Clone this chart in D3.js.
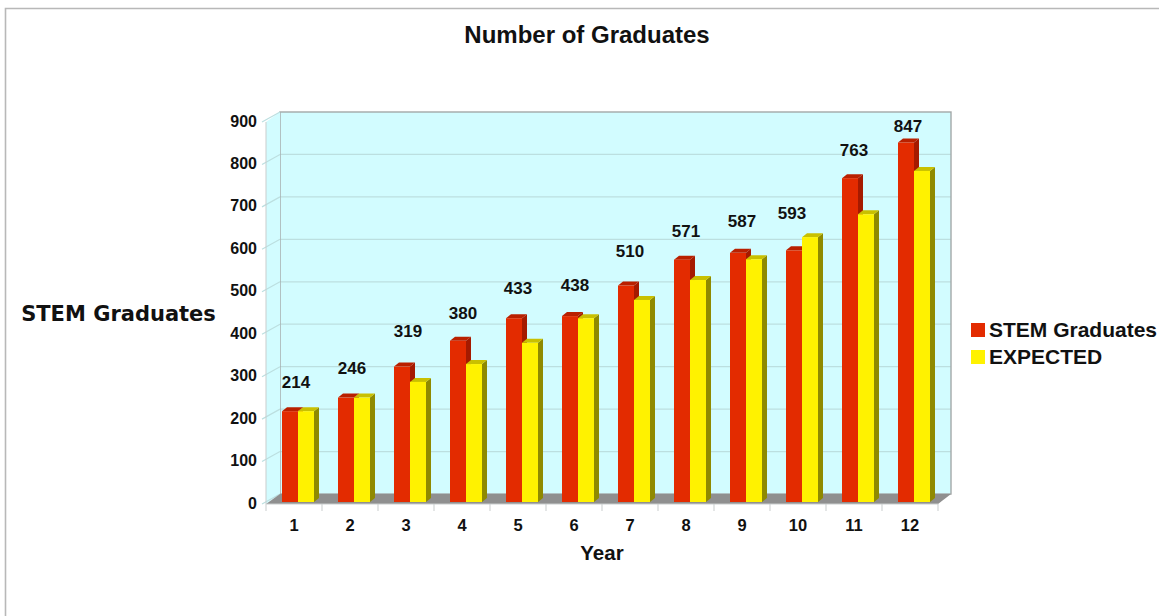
<!DOCTYPE html>
<html><head><meta charset="utf-8">
<script src="https://cdn.jsdelivr.net/npm/d3@7/dist/d3.min.js"></script>
<style>html,body{margin:0;padding:0;background:#fff}svg{display:block}text{font-family:"Liberation Sans",Arial,sans-serif;font-weight:bold;fill:#111}</style>
</head><body><svg id="c" width="1159" height="616"></svg>
<script>
const years=[1,2,3,4,5,6,7,8,9,10,11,12];
const stem=[214,246,319,380,433,438,510,571,587,593,763,847];
const expected=[214,246,283,325,375,433,476,523,572,624,678,780];
const yTicks=[0,100,200,300,400,500,600,700,800,900];
const seriesNames=["STEM Graduates","EXPECTED"];
// hand placement of the value labels relative to their bars (layout, not data)
const labelShiftX=[2,2,2,1,0,1,0,0,0,-6,0,-2];
const labelGap=[29,30,36,28,30,31,35,29,32,37,28,16];
const svg=d3.select("#c");
const dx=13,dy=-10;
const x=d3.scaleBand().domain(years).range([266,938]).paddingInner(0).paddingOuter(0);
const y=d3.scaleLinear().domain([0,900]).range([504,122]);
const inner=d3.scaleBand().domain([0,1]).range([16,48]);
const barBase=y(0)-2;
const h=v=>y(0)-y(v);
// page frame
svg.append("path").attr("d","M5.5,616V8.5H1159").attr("fill","none").attr("stroke","#b8b8b8").attr("stroke-width",1.6);
// back wall
const wl=266+dx+1,wr=938+dx,wt=y(900)+dy,wb=y(0)+dy;
svg.append("rect").attr("x",wl).attr("y",wt).attr("width",wr-wl).attr("height",wb-wt).attr("fill","#d2fcff");
svg.append("g").selectAll("line").data(yTicks.slice(1,-1)).join("line")
 .attr("x1",wl).attr("x2",wr).attr("y1",d=>y(d)+dy).attr("y2",d=>y(d)+dy).attr("stroke","#bcdfe0").attr("stroke-width",1.2);
svg.append("rect").attr("x",wl).attr("y",wt).attr("width",wr-wl).attr("height",wb-wt).attr("fill","none").attr("stroke","#a3a8a8").attr("stroke-width",1.4);
// left side wall
svg.append("path").attr("d",`M266,${y(0)}L${wl},${wb}V${wt}L266,${y(900)}Z`).attr("fill","#d2fcff");
svg.append("g").selectAll("line").data(yTicks).join("line")
 .attr("x1",262).attr("x2",wl).attr("y1",d=>y(d)).attr("y2",d=>y(d)+dy).attr("stroke","#bcdfe0").attr("stroke-width",1.2);
// floor
svg.append("path").attr("d",`M266,${y(0)}H938L${wr},${wb}H${wl}Z`).attr("fill","#8f8f8f");
// axes
svg.append("path").attr("d",`M266,${y(900)}V${y(0)}H938`).attr("fill","none").attr("stroke","#c9cdcd");
svg.append("g").selectAll("line").data(d3.range(13)).join("line")
 .attr("x1",d=>266+d*x.step()).attr("x2",d=>266+d*x.step()).attr("y1",y(0)).attr("y2",y(0)+7).attr("stroke","#c9cdcd");
// bars
function bar(g,xp,w,top,front,side,topc){
 const d=5,e=-4;
 g.append("path").attr("d",`M${xp+w},${top}l${d},${e}V${barBase+e}l${-d},${-e}Z`).attr("fill",side);
 g.append("path").attr("d",`M${xp},${top}l${d},${e}h${w}l${-d},${-e}Z`).attr("fill",topc);
 g.append("rect").attr("x",xp).attr("y",top).attr("width",w).attr("height",barBase-top).attr("fill",front);
}
const g=svg.append("g");
years.forEach((yr,i)=>{
 const x0=x(yr);
 bar(g,x0+inner(0),inner.bandwidth(),barBase-h(stem[i]),"#e32b00","#a51a00","#b92000");
 bar(g,x0+inner(1),inner.bandwidth(),barBase-h(expected[i]),"#fff200","#8f8a00","#c9c000");
});
// value labels
svg.append("g").selectAll("text").data(years).join("text")
 .attr("x",(d,i)=>x(d)+x.step()/2+labelShiftX[i]).attr("y",(d,i)=>barBase-h(stem[i])-labelGap[i]+6)
 .attr("text-anchor","middle").attr("font-size",17).text((d,i)=>stem[i]);
// tick labels
svg.append("g").selectAll("text").data(yTicks).join("text")
 .attr("x",257).attr("y",d=>y(d)+4.5).attr("text-anchor","end").attr("font-size",16).text(d=>d);
svg.append("g").selectAll("text").data(years).join("text")
 .attr("x",d=>x(d)+x.step()/2).attr("y",531).attr("text-anchor","middle").attr("font-size",16.5).text(d=>d);
// titles
svg.append("text").attr("x",587).attr("y",43).attr("text-anchor","middle").attr("font-size",24).text("Number of Graduates");
svg.append("text").attr("x",602).attr("y",560).attr("text-anchor","middle").attr("font-size",20.5).text("Year");
svg.append("text").attr("x",118.5).attr("y",321).attr("text-anchor","middle").attr("font-size",21).style("font-family","'DejaVu Sans'").text("STEM Graduates");
// legend
const colors=["#e32b00","#fff200"];
const lg=svg.append("g").selectAll("g").data(seriesNames).join("g").attr("transform",(d,i)=>`translate(971,${323+i*27})`);
lg.append("rect").attr("width",14).attr("height",14).attr("fill",(d,i)=>colors[i]);
lg.append("text").attr("x",18).attr("y",14).attr("font-size",21).text(d=>d);
</script></body></html>
